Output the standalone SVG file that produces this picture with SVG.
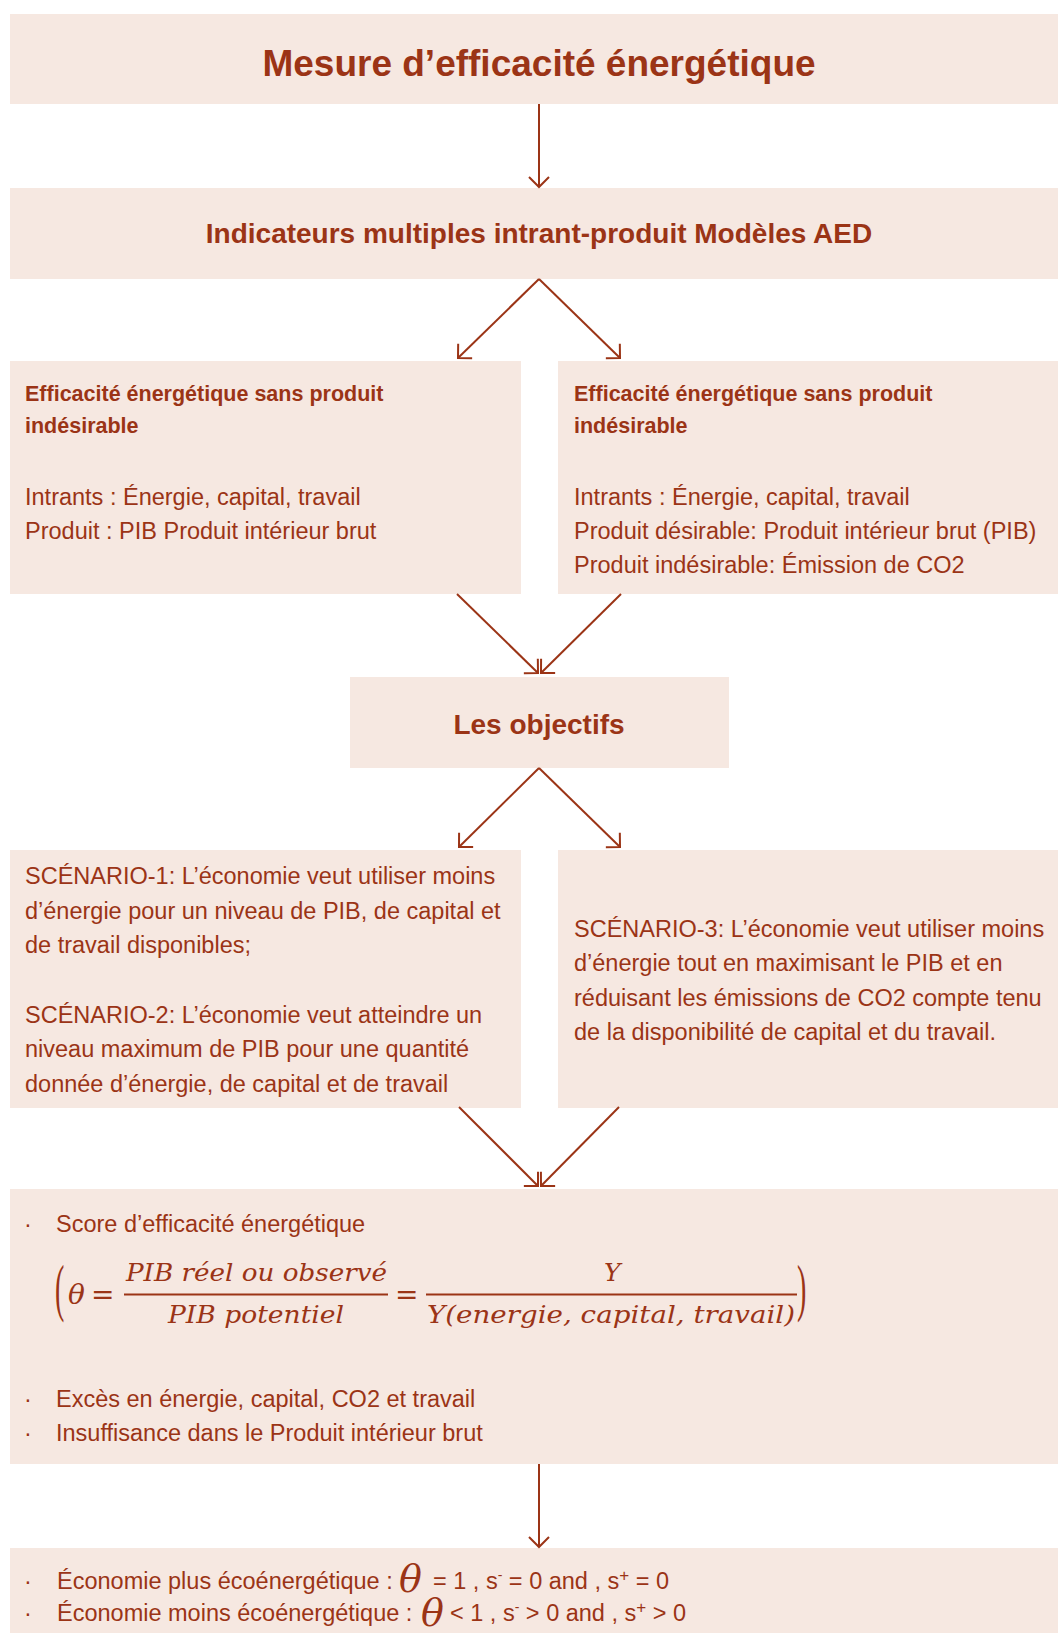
<svg xmlns="http://www.w3.org/2000/svg" width="1058" height="1633" viewBox="0 0 1058 1633">
<style>
.box{fill:#F6E8E1}
.t{font-family:"Liberation Sans",Arial,sans-serif;font-size:23.5px;fill:#9B3416}
.b{font-family:"Liberation Sans",Arial,sans-serif;font-weight:bold;fill:#9B3416}
.m{font-family:"DejaVu Serif","Liberation Serif",serif;font-style:italic;fill:#9B3416}
.p{font-family:"Liberation Serif",serif;fill:#9B3416}
.c{stroke:#9B3416;stroke-width:2;fill:none}
</style>
<defs>
<marker id="ah" markerUnits="userSpaceOnUse" viewBox="0 0 24 24" refX="12" refY="12" markerWidth="24" markerHeight="24" orient="auto">
<path d="M2,2 L12,12 L2,22" fill="none" stroke="#9B3416" stroke-width="2"/>
</marker>
</defs>
<rect width="1058" height="1633" fill="#FFFFFF"/>
<g id="n1">
<rect class="box" x="10" y="14" width="1048" height="90"/>
<text class="b" x="539" y="76" font-size="37" text-anchor="middle">Mesure d’efficacité énergétique</text>
</g>
<g id="n2">
<rect class="box" x="10" y="188" width="1048" height="91"/>
<text class="b" x="539" y="243" font-size="28" text-anchor="middle">Indicateurs multiples intrant-produit Modèles AED</text>
</g>
<g id="n3a">
<rect class="box" x="10" y="361" width="511" height="233"/>
<text class="b" x="25" y="401" font-size="21.5">Efficacité énergétique sans produit</text>
<text class="b" x="25" y="433" font-size="21.5">indésirable</text>
<text class="t" x="25" y="505">Intrants : Énergie, capital, travail</text>
<text class="t" x="25" y="539">Produit : PIB Produit intérieur brut</text>
</g>
<g id="n3b">
<rect class="box" x="558" y="361" width="500" height="233"/>
<text class="b" x="574" y="401" font-size="21.5">Efficacité énergétique sans produit</text>
<text class="b" x="574" y="433" font-size="21.5">indésirable</text>
<text class="t" x="574" y="505">Intrants : Énergie, capital, travail</text>
<text class="t" x="574" y="539">Produit désirable: Produit intérieur brut (PIB)</text>
<text class="t" x="574" y="573">Produit indésirable: Émission de CO2</text>
</g>
<g id="n4">
<rect class="box" x="350" y="677" width="379" height="91"/>
<text class="b" x="539" y="734" font-size="28" text-anchor="middle">Les objectifs</text>
</g>
<g id="n5a">
<rect class="box" x="10" y="850" width="511" height="258"/>
<text class="t" x="25" y="884">SCÉNARIO-1: L’économie veut utiliser moins</text>
<text class="t" x="25" y="919">d’énergie pour un niveau de PIB, de capital et</text>
<text class="t" x="25" y="953">de travail disponibles;</text>
<text class="t" x="25" y="1023">SCÉNARIO-2: L’économie veut atteindre un</text>
<text class="t" x="25" y="1057">niveau maximum de PIB pour une quantité</text>
<text class="t" x="25" y="1092">donnée d’énergie, de capital et de travail</text>
</g>
<g id="n5b">
<rect class="box" x="558" y="850" width="500" height="258"/>
<text class="t" x="574" y="937">SCÉNARIO-3: L’économie veut utiliser moins</text>
<text class="t" x="574" y="971">d’énergie tout en maximisant le PIB et en</text>
<text class="t" x="574" y="1006">réduisant les émissions de CO2 compte tenu</text>
<text class="t" x="574" y="1040">de la disponibilité de capital et du travail.</text>
</g>
<g id="n6">
<rect class="box" x="10" y="1189" width="1048" height="275"/>
<text class="t" x="24" y="1232">·</text>
<text class="t" x="56" y="1232">Score d’efficacité énergétique</text>
<text class="p" font-size="28" transform="translate(55,1309) scale(1,2.27)">(</text>
<text class="m" x="68" y="1304" font-size="28">θ</text>
<text class="m" x="91" y="1304" font-size="28" font-style="normal">=</text>
<text class="m" x="126" y="1281" font-size="25" textLength="261" lengthAdjust="spacingAndGlyphs">PIB réel ou observé</text>
<line class="c" x1="124" y1="1294.5" x2="388" y2="1294.5"/>
<text class="m" x="168" y="1323" font-size="25" textLength="176" lengthAdjust="spacingAndGlyphs">PIB potentiel</text>
<text class="m" x="395" y="1304" font-size="28" font-style="normal">=</text>
<text class="m" x="604" y="1281" font-size="25">Y</text>
<line class="c" x1="426" y1="1294.5" x2="797" y2="1294.5"/>
<text class="m" x="427" y="1323" font-size="25" textLength="368" lengthAdjust="spacingAndGlyphs">Y(energie, capital, travail)</text>
<text class="p" font-size="28" transform="translate(797,1309) scale(1,2.27)">)</text>
<text class="t" x="24" y="1407">·</text>
<text class="t" x="56" y="1407">Excès en énergie, capital, CO2 et travail</text>
<text class="t" x="24" y="1441">·</text>
<text class="t" x="56" y="1441">Insuffisance dans le Produit intérieur brut</text>
</g>
<g id="n7">
<rect class="box" x="10" y="1548" width="1048" height="85"/>
<text class="t" x="24" y="1589">·</text>
<text class="t" x="57" y="1589">Économie plus écoénergétique :</text>
<text class="m" x="399" y="1592" font-size="38">θ</text>
<text class="t" x="433" y="1589">= 1 , s<tspan dy="-9" font-size="14">-</tspan><tspan dy="9"> = 0 and , s</tspan><tspan dy="-8" font-size="17">+</tspan><tspan dy="8"> = 0</tspan></text>
<text class="t" x="24" y="1621">·</text>
<text class="t" x="57" y="1621">Économie moins écoénergétique :</text>
<text class="m" x="421" y="1626" font-size="38">θ</text>
<text class="t" x="450" y="1621">&lt; 1 , s<tspan dy="-9" font-size="14">-</tspan><tspan dy="9"> &gt; 0 and , s</tspan><tspan dy="-8" font-size="17">+</tspan><tspan dy="8"> &gt; 0</tspan></text>
</g>
<g id="connectors">
<line class="c" x1="539" y1="104" x2="539" y2="187" marker-end="url(#ah)"/>
<line class="c" x1="539" y1="279" x2="458" y2="358" marker-end="url(#ah)"/>
<line class="c" x1="539" y1="279" x2="620" y2="358" marker-end="url(#ah)"/>
<line class="c" x1="457" y1="594" x2="538" y2="673" marker-end="url(#ah)"/>
<line class="c" x1="621" y1="594" x2="541" y2="673" marker-end="url(#ah)"/>
<line class="c" x1="539" y1="768" x2="459" y2="847" marker-end="url(#ah)"/>
<line class="c" x1="539" y1="768" x2="620" y2="847" marker-end="url(#ah)"/>
<line class="c" x1="459" y1="1107" x2="538" y2="1186" marker-end="url(#ah)"/>
<line class="c" x1="619" y1="1107" x2="541" y2="1186" marker-end="url(#ah)"/>
<line class="c" x1="539" y1="1464" x2="539" y2="1547" marker-end="url(#ah)"/>
</g>
</svg>
